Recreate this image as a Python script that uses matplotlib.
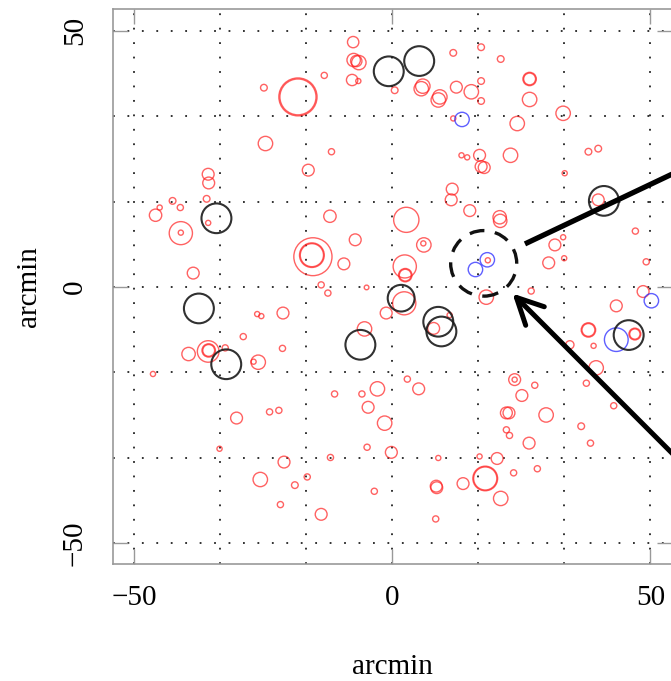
import matplotlib
matplotlib.use("Agg")
import matplotlib.pyplot as plt
from matplotlib.patches import Circle
import numpy as np

plt.rcParams['font.family'] = ['Liberation Serif', 'DejaVu Serif']
plt.rcParams['font.size'] = 21

# sources: x, y (arcmin) and radius (arcmin)
red_x = [-7.6, -7.5, -6.5, -7.0, -7.8, -6.6, -13.2, -24.9, -18.3, -18.3, 0.45, -24.6, -11.8, -16.3,
         -35.7, -35.6, -36.0, -42.6, -45.1, -41.1, -45.9, -35.7, -41.0, -41.0, -12.1, -7.2, -15.4,
         -15.6, -15.6, -9.4, -38.6, -13.8, -12.5, -5.0,
         5.9, 5.6, 8.9, 9.2, 12.4, 15.3, 11.8, 17.2, 21.0, 17.2, 17.2, 26.6, 26.6, 26.6, 33.1, 24.2,
         11.8, 13.4, 14.5, 16.9, 17.2, 17.8, 22.9, 38.0, 39.9, 33.4, 11.6, 11.4, 15.0, 20.8, 20.9,
         39.9, 2.7, 6.1, 6.0, 31.5, 33.1, 33.3, 30.3, 47.1, 49.2, 18.5, 2.4, 2.5, 2.5, 2.3, 18.2,
         26.9, 48.6,
         -1.2, 8.0, 11.1, 43.4, 38.0, 38.0, 39.0, 47.0, 47.0, 39.5, 37.6, 42.9, 36.6, 38.4, 23.7,
         23.7, 27.6, 25.1, 22.1, 22.6, 29.8, 22.1, 22.7, 26.5, 2.9, 5.1, -1.5, -0.2, 8.9, 16.9,
         20.3, 18.0, 18.0, 13.7, 8.5, 8.6, 21.0, 23.5, 28.1, 8.4, 34.4,
         -39.5, -35.7, -35.6, -35.6, -32.4, -46.4, -26.0, -26.9, -28.9, -21.3, -21.2, -26.2, -25.4,
         -5.4, -30.2, -23.8, -22.0, -33.5, -2.9, -4.7, -11.2, -5.9, -4.9, -12.0, -21.0, -25.6,
         -18.9, -16.5, -21.7, -3.5, -13.8]
red_y = [47.8, 44.3, 43.8, 44.1, 40.4, 40.2, 41.3, 38.9, 37.1, 37.1, 38.4, 28.0, 26.4, 22.8,
         22.0, 20.3, 17.2, 16.8, 15.5, 15.5, 14.0, 12.5, 10.5, 10.6, 13.8, 9.2, 5.9,
         6.2, 6.2, 4.5, 2.7, 0.4, -1.2, -0.1,
         39.2, 38.7, 36.5, 37.1, 39.0, 38.1, 45.7, 46.8, 44.5, 40.2, 36.3, 40.6, 40.6, 36.6, 33.9, 31.9,
         32.9, 25.7, 25.3, 25.7, 23.5, 23.3, 25.7, 26.4, 27.0, 22.2, 19.1, 17.0, 14.9, 13.6, 12.9,
         17.0, 13.1, 8.2, 8.5, 8.2, 9.7, 5.6, 4.7, 10.9, 4.9, 5.2, 4.0, 2.3, 2.3, -3.2, -2.0,
         -0.8, -0.9,
         -5.1, -8.1, -5.5, -3.7, -8.4, -8.4, -11.5, -9.2, -9.2, -15.8, -18.8, -23.2, -27.2, -30.5, -18.1,
         -18.1, -19.2, -21.2, -24.6, -24.6, -25.0, -27.9, -29.0, -30.5, -18.0, -19.9, -26.6, -32.3, -33.4, -33.1,
         -33.5, -37.4, -37.4, -38.4, -38.9, -39.2, -41.3, -36.3, -35.5, -45.3, -11.3,
         -13.1, -12.6, -12.4, -12.4, -11.9, -17.0, -14.7, -14.6, -9.7, -12.0, -5.1, -5.3, -5.7,
         -8.2, -25.6, -24.4, -24.1, -31.6, -19.9, -23.5, -20.9, -20.9, -31.3, -33.3, -34.2, -37.6,
         -38.7, -37.1, -42.5, -39.9, -44.4]
red_r = [1.1, 1.3, 1.4, 1.1, 1.1, 0.5, 0.6, 0.65, 3.7, 3.5, 0.65, 1.4, 0.6, 1.15,
         1.15, 1.15, 0.65, 0.65, 0.5, 0.6, 1.2, 0.5, 2.25, 0.5, 1.2, 1.15, 3.7,
         2.4, 2.25, 1.15, 1.15, 0.6, 0.6, 0.45,
         1.4, 1.4, 1.4, 1.4, 1.15, 1.4, 0.65, 0.65, 0.65, 0.65, 0.65, 1.3, 1.15, 1.4, 1.4, 1.4,
         0.5, 0.5, 0.5, 1.15, 1.15, 1.15, 1.4, 0.65, 0.65, 0.5, 1.15, 1.15, 1.15, 1.3, 1.3,
         1.15, 2.45, 1.4, 0.5, 1.15, 0.5, 0.5, 1.15, 0.6, 0.6, 0.5, 2.25, 1.3, 1.15, 2.25, 1.4,
         0.6, 1.15,
         1.15, 1.15, 0.5, 1.15, 1.4, 1.25, 0.5, 1.15, 1.0, 1.4, 0.6, 0.6, 0.65, 0.6, 1.15,
         0.5, 0.6, 1.15, 1.15, 1.15, 1.4, 0.6, 0.6, 1.15, 0.6, 1.15, 1.4, 1.15, 0.5, 0.5,
         1.15, 2.4, 2.25, 1.15, 1.15, 1.15, 1.4, 0.6, 0.6, 0.6, 0.8,
         1.3, 2.1, 1.3, 1.15, 0.6, 0.5, 1.4, 0.5, 0.6, 0.6, 1.15, 0.5, 0.5,
         1.4, 1.15, 0.6, 0.6, 0.5, 1.4, 1.15, 0.6, 0.6, 0.6, 0.6, 1.15, 1.4,
         0.65, 0.6, 0.6, 0.6, 1.15]

black_x = [-0.7, 5.2, 41.0, -34.1, 1.7, 8.9, 9.5, 45.8, -37.5, -32.2, -6.2]
black_y = [42.1, 44.1, 16.8, 13.4, -2.2, -6.8, -8.7, -9.4, -4.2, -15.1, -11.3]
black_r = [2.9, 2.9, 2.9, 2.9, 2.6, 2.9, 2.9, 2.9, 2.9, 2.9, 2.9]

blue_x = [13.5, 18.4, 16.1, 43.4, 50.2]
blue_y = [32.7, 5.3, 3.4, -10.3, -2.7]
blue_r = [1.4, 1.4, 1.4, 2.3, 1.4]

# highlighted region
region = (17.7, 4.6, 6.4)

ticks = [-50, 0, 50]
grid = np.arange(-50, 51, 50 / 3)

fig = plt.figure(figsize=(6.71, 6.81), dpi=100)
ax = fig.add_axes([0.168, 0.1718, 0.8335, 0.8145])

for xs, ys, rs, col, lw, al in [(red_x, red_y, red_r, '#ff2020', 1.0, 0.7),
                                (blue_x, blue_y, blue_r, '#2a2aff', 1.0, 0.75),
                                (black_x, black_y, black_r, '#1a1a1a', 1.5, 0.9)]:
    for x, y, r in zip(xs, ys, rs):
        ax.add_patch(Circle((x, y), r, fill=False, ec=col, lw=lw, alpha=al))

ax.add_patch(Circle(region[:2], region[2], fill=False, ec='#111111', lw=2.4,
                    ls=(0, (4.5, 3.2))))

ax.set_xlim(-54.2, 54.2)
ax.set_ylim(-54.1, 54.2)

ax.set_xticks(ticks)
ax.set_yticks(ticks)
ax.set_xticklabels(['\u221250', '0', '50'])
ax.set_yticklabels(['\u221250', '0', '50'], rotation=90, va='center')
ax.set_xticks(grid, minor=True)
ax.set_yticks(grid, minor=True)
ax.tick_params(which='major', direction='in', length=11, width=1, color='#999999',
               top=True, right=True, pad=15)
ax.tick_params(which='minor', length=0)
ax.tick_params(axis='y', pad=18)
ax.grid(True, which='both', color='#222222', lw=1.3, ls=(0, (1, 7)))
ax.set_axisbelow(True)
for s in ax.spines.values():
    s.set_color('#999999')
    s.set_linewidth(1.2)

ax.set_xlabel('arcmin', labelpad=31)
ax.set_ylabel('arcmin', labelpad=14)

# pointers out of the frame
ax.plot([25.7, 59.6], [8.4, 24.6], color='black', lw=3.8, clip_on=False,
        solid_capstyle='butt')
ax.annotate('', xy=(22.9, -0.9), xytext=(59.6, -37.9), annotation_clip=False,
            arrowprops=dict(arrowstyle='->, head_length=0.9, head_width=0.45',
                            color='black', lw=3.6))

fig.savefig('out.png', dpi=100)
